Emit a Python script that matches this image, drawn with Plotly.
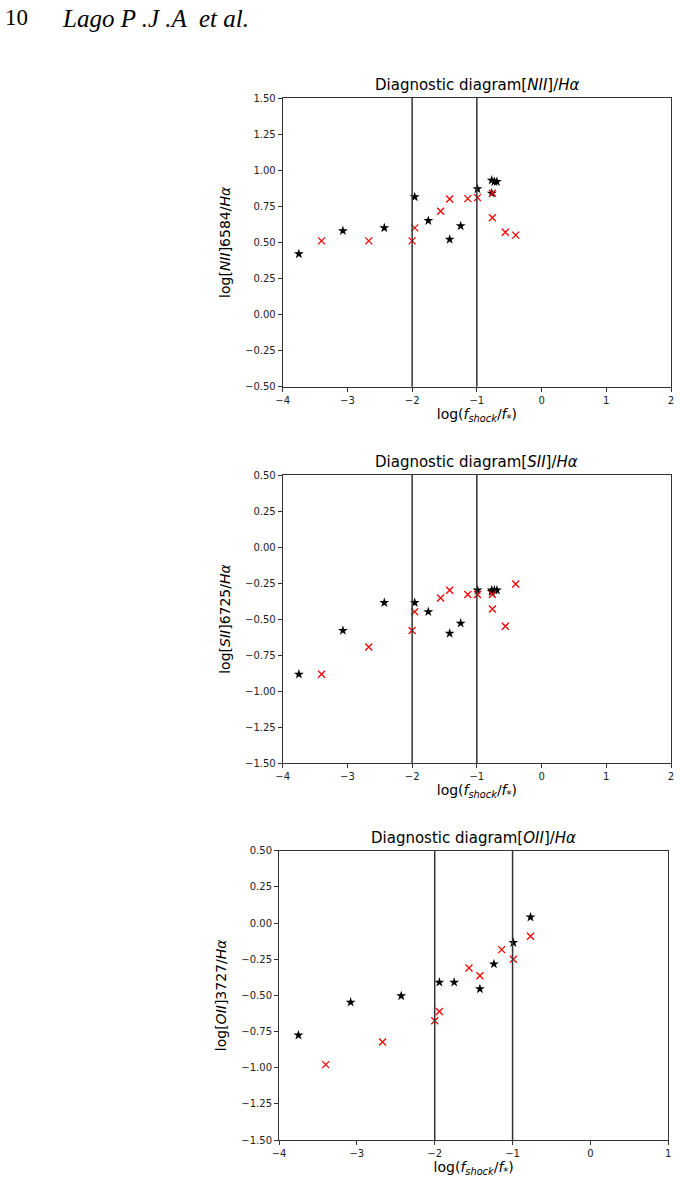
import plotly.graph_objects as go

# --- данные ---
# [NII]/Ha
nii_star_x = [-3.75, -3.07, -2.43, -1.96, -1.75, -1.42, -1.25, -0.99, -0.77, -0.73, -0.69, -0.77]
nii_star_y = [0.42, 0.58, 0.60, 0.815, 0.65, 0.52, 0.614, 0.87, 0.93, 0.92, 0.92, 0.84]
nii_cross_x = [-3.40, -2.67, -2.00, -1.96, -1.56, -1.42, -1.14, -0.99, -0.76, -0.76, -0.56, -0.40]
nii_cross_y = [0.51, 0.51, 0.51, 0.60, 0.716, 0.80, 0.803, 0.81, 0.84, 0.67, 0.57, 0.55]

# [SII]/Ha
sii_star_x = [-3.75, -3.07, -2.43, -1.96, -1.75, -1.42, -1.25, -0.99, -0.77, -0.73, -0.69, -0.77]
sii_star_y = [-0.884, -0.58, -0.387, -0.387, -0.45, -0.60, -0.53, -0.30, -0.30, -0.30, -0.30, -0.31]
sii_cross_x = [-3.40, -2.67, -2.00, -1.96, -1.56, -1.42, -1.14, -0.99, -0.76, -0.76, -0.56, -0.40]
sii_cross_y = [-0.884, -0.695, -0.58, -0.45, -0.354, -0.30, -0.33, -0.33, -0.33, -0.43, -0.55, -0.257]

# [OII]/Ha
oii_star_x = [-3.75, -3.08, -2.43, -1.94, -1.75, -1.42, -1.24, -0.99, -0.77]
oii_star_y = [-0.775, -0.548, -0.504, -0.41, -0.41, -0.456, -0.284, -0.136, 0.04]
oii_cross_x = [-3.40, -2.67, -2.00, -1.94, -1.56, -1.42, -1.14, -0.99, -0.77]
oii_cross_y = [-0.979, -0.823, -0.676, -0.612, -0.311, -0.364, -0.184, -0.251, -0.092]

vlines_x = [-2, -1]

# размер страницы; отступ body убирается в post_script ниже
W, H = 680, 1183


def xdom(left, right):
    return [left / W, right / W]


def ydom(top, bottom):
    return [1 - bottom / H, 1 - top / H]


panels = [
    dict(line='NII', wl='6584', sx=nii_star_x, sy=nii_star_y, cx=nii_cross_x, cy=nii_cross_y,
         xr=[-4, 2], yr=[-0.5, 1.5], xd=xdom(282.7, 671), yd=ydom(98, 386.7)),
    dict(line='SII', wl='6725', sx=sii_star_x, sy=sii_star_y, cx=sii_cross_x, cy=sii_cross_y,
         xr=[-4, 2], yr=[-1.5, 0.5], xd=xdom(282.7, 671), yd=ydom(475, 763)),
    dict(line='OII', wl='3727', sx=oii_star_x, sy=oii_star_y, cx=oii_cross_x, cy=oii_cross_y,
         xr=[-4, 1], yr=[-1.5, 0.5], xd=xdom(279, 668.3), yd=ydom(850.7, 1140)),
]

fig = go.Figure()
axis_font = dict(family='DejaVu Sans', size=10, color='#222')

for n, p in enumerate(panels, start=1):
    xa = 'x' if n == 1 else f'x{n}'
    ya = 'y' if n == 1 else f'y{n}'

    fig.add_trace(go.Scatter(
        x=p['sx'], y=p['sy'], mode='markers', xaxis=xa, yaxis=ya,
        marker=dict(symbol='star', size=7.5, color='black', line=dict(width=0)),
        showlegend=False, hoverinfo='skip'
    ))
    fig.add_trace(go.Scatter(
        x=p['cx'], y=p['cy'], mode='markers', xaxis=xa, yaxis=ya,
        marker=dict(symbol='x-thin', size=7, color='red', line=dict(width=1.3, color='red')),
        showlegend=False, hoverinfo='skip'
    ))

    common = dict(showgrid=False, zeroline=False, showline=True, mirror=True,
                  linecolor='#333', linewidth=1, ticks='outside', ticklen=4,
                  tickcolor='#333', tickfont=axis_font, ticklabeloverflow='allow')
    fig.layout[('xaxis' if n == 1 else f'xaxis{n}')] = dict(
        domain=p['xd'], range=p['xr'], anchor=ya, dtick=1, tick0=0,
        title=dict(text='log(<i>f</i><sub><i>shock</i></sub>/<i>f</i><sub>*</sub>)',
                   font=dict(family='DejaVu Sans', size=14, color='black'), standoff=1),
        **common)
    fig.layout[('yaxis' if n == 1 else f'yaxis{n}')] = dict(
        domain=p['yd'], range=p['yr'], anchor=xa, dtick=0.25, tick0=0, tickformat='.2f',
        title=dict(text=f"log[<i>{p['line']}</i>]{p['wl']}/<i>H\u03b1</i>",
                   font=dict(family='DejaVu Sans', size=14, color='black'), standoff=11),
        **common)

    # вертикальные линии
    for vx in vlines_x:
        fig.add_shape(type='line', xref=xa, yref=f'{ya} domain', x0=vx, x1=vx, y0=0, y1=1,
                      line=dict(color='#333', width=1.5))

    # заголовок панели
    fig.add_annotation(
        text=f"Diagnostic diagram[<i>{p['line']}</i>]/<i>H\u03b1</i>",
        xref=f'{xa} domain', yref=f'{ya} domain', x=0.5, y=1, yanchor='bottom', yshift=2,
        showarrow=False, font=dict(family='DejaVu Sans', size=15, color='black')
    )

# колонтитул страницы
fig.add_annotation(text='10', xref='paper', yref='paper', x=3 / W, y=1 - 3 / H,
                   xanchor='left', yanchor='top', showarrow=False,
                   font=dict(family='Liberation Serif', size=23, color='black'))
fig.add_annotation(text='<i>Lago P .J .A  et al.</i>', xref='paper', yref='paper',
                   x=60 / W, y=1 - 3 / H, xanchor='left', yanchor='top', showarrow=False,
                   font=dict(family='Liberation Serif', size=25, color='black'))

fig.update_layout(
    width=W, height=H, template='none',
    margin=dict(l=0, r=0, t=0, b=0),
    paper_bgcolor='white', plot_bgcolor='white',
)

fig.write_html('out.html', config={'displayModeBar': False},
               post_script="document.body.style.margin='0';")
